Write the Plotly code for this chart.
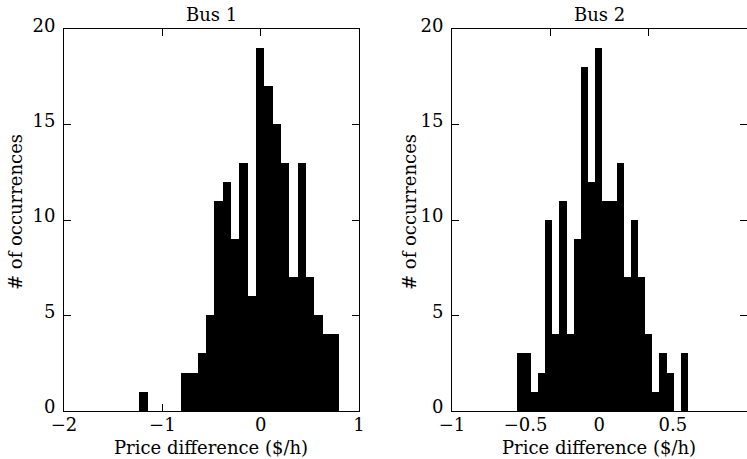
import numpy as np
import plotly.graph_objects as go

# ---- data ----
bus1_bin_start = -1.234
bus1_bin_end = 0.800
bus1_counts = [1, 0, 0, 0, 0, 2, 2, 3, 5, 11, 12, 9, 13, 6, 19, 17, 15, 13, 7, 13, 7, 5, 4, 4]

bus2_bin_start = -0.562
bus2_bin_end = 0.603
bus2_counts = [3, 3, 1, 2, 10, 4, 11, 4, 9, 18, 12, 19, 11, 11, 13, 7, 10, 7, 4, 1, 3, 2, 0, 3]

titles = ["Bus 1", "Bus 2"]
x_label = "Price difference ($/h)"
y_label = "# of occurrences"
bus1_xticks = [-2, -1, 0, 1]
bus2_xticks = [-1, -0.5, 0, 0.5, 1]
y_ticks = [0, 5, 10, 15, 20]


def centers(start, end, counts):
    n = len(counts)
    w = (end - start) / n
    return start + w * (np.arange(n) + 0.5), w


W, H = 747, 459
FONT = "DejaVu Serif"
FS = 18

fig = go.Figure()
c1, w1 = centers(bus1_bin_start, bus1_bin_end, bus1_counts)
c2, w2 = centers(bus2_bin_start, bus2_bin_end, bus2_counts)
fig.add_trace(go.Bar(x=c1, y=bus1_counts, width=w1, marker=dict(color="black", line=dict(width=0)),
                     xaxis="x", yaxis="y", showlegend=False))
fig.add_trace(go.Bar(x=c2, y=bus2_counts, width=w2, marker=dict(color="black", line=dict(width=0)),
                     xaxis="x2", yaxis="y2", showlegend=False))
# dummy trace to register the top tick axis of panel 2
fig.add_trace(go.Scatter(x=[None], y=[None], xaxis="x3", yaxis="y2", showlegend=False, hoverinfo="skip"))

ytop = 1 - 29.3 / H
ybot = 1 - 411 / H
d1 = [64 / W, 359 / W]
d2 = [452 / W, 746.5 / W]

axis_common = dict(showgrid=False, zeroline=False, showline=True, linecolor="black", linewidth=1,
                   ticks="inside", ticklen=7, tickcolor="black", tickwidth=1, automargin=False,
                   tickfont=dict(family=FONT, size=FS, color="black"))

fig.update_layout(
    template="none",
    width=W, height=H, margin=dict(l=0, r=0, t=0, b=0, pad=0), autosize=False,
    paper_bgcolor="white", plot_bgcolor="white", bargap=0,
    font=dict(family=FONT, size=FS, color="black"),
    xaxis=dict(domain=d1, range=[-2, 1], tickvals=bus1_xticks, mirror="ticks", anchor="y",
               ticklabelstandoff=-3, **axis_common),
    yaxis=dict(domain=[ybot, ytop], range=[0, 20], tickvals=y_ticks, mirror="ticks", anchor="x",
               ticklabelstandoff=4, ticklabelshift=-4, **axis_common),
    xaxis2=dict(domain=d2, range=[-1, 1], tickvals=bus2_xticks, mirror=True, anchor="y2",
                ticklabelstandoff=-3, **axis_common),
    yaxis2=dict(domain=[ybot, ytop], range=[0, 20], tickvals=y_ticks, mirror="ticks", anchor="x2",
                ticklabelstandoff=4, ticklabelshift=-4, **axis_common),
    xaxis3=dict(overlaying="x2", side="top", anchor="y2", range=[0, 3], tickvals=[1, 2],
                showticklabels=False, showgrid=False, zeroline=False, showline=False, automargin=False,
                ticks="inside", ticklen=7, tickcolor="black", tickwidth=1),
)

ann = []
for dom, t in zip([d1, d2], titles):
    cx = (dom[0] + dom[1]) / 2
    ann.append(dict(text=t, x=cx, y=1 - 15 / H, xref="paper", yref="paper", showarrow=False,
                    xanchor="center", yanchor="middle", font=dict(family=FONT, size=FS, color="black")))
    ann.append(dict(text=x_label, x=cx, y=1 - 447 / H, xref="paper", yref="paper", showarrow=False,
                    xanchor="center", yanchor="middle", font=dict(family=FONT, size=FS, color="black")))
for px in [15, 409]:
    ann.append(dict(text=y_label, x=px / W, y=1 - 212 / H, xref="paper", yref="paper", showarrow=False,
                    textangle=-90, xanchor="center", yanchor="middle",
                    font=dict(family=FONT, size=FS, color="black")))
fig.update_layout(annotations=ann)

fig.write_html("out.html")
